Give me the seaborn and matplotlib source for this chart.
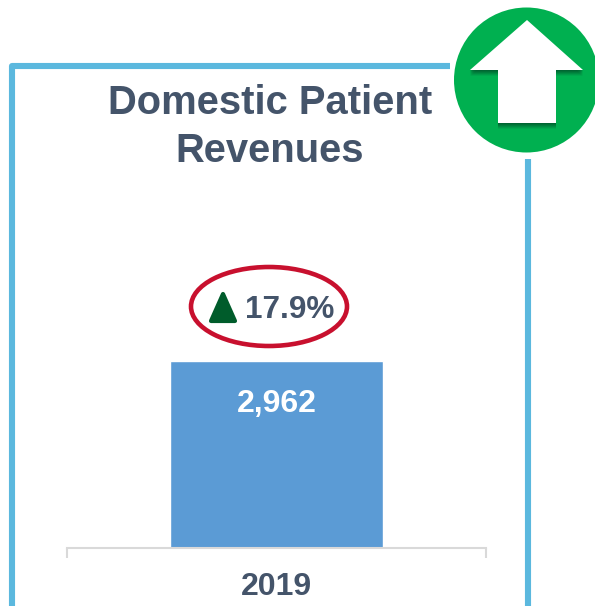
import matplotlib
matplotlib.use("Agg")
import matplotlib.pyplot as plt
import seaborn as sns
import pandas as pd
from matplotlib.patches import Ellipse, Polygon, Circle
from matplotlib.lines import Line2D

years = ["2019"]
revenues = [2962]
growth_label = "17.9%"
title_lines = ["Domestic Patient", "Revenues"]

W, H = 595, 606
sns.set_theme(style="white")
plt.rcParams['font.family'] = ['Liberation Sans', 'DejaVu Sans']
TEXT = "#44546A"
FRAME = "#5BB8DE"
GREEN = "#00B050"
BAR = "#5B9BD5"
AXIS = "#D9D9D9"

fig = plt.figure(figsize=(W / 100, H / 100), dpi=100, facecolor="white")

# pixel-space overlay for the decorations
ov = fig.add_axes([0, 0, 1, 1], zorder=0)
ov.set_xlim(0, W)
ov.set_ylim(H, 0)
ov.axis("off")

# bar chart
base_y, top_y, x0, x1 = 548, 361, 67, 486
ax = fig.add_axes([x0 / W, 1 - base_y / H, (x1 - x0) / W, (base_y - top_y) / H], zorder=2)
ax.patch.set_alpha(0)
df = pd.DataFrame({"year": years, "revenue": revenues})
sns.barplot(data=df, x="year", y="revenue", color=BAR, saturation=1, width=0.506, ax=ax)
ax.set_xlim(-0.5, 0.5)
ax.set_ylim(0, max(revenues))
ax.set_xlabel("")
ax.set_ylabel("")
ax.set_yticks([])
sns.despine(ax=ax, left=True, top=True, right=True)
ax.spines["bottom"].set_color(AXIS)
ax.spines["bottom"].set_linewidth(1.5)
ax.set_xticks([-0.5, 0.5], minor=True)
ax.tick_params(axis="x", which="minor", length=7.5, width=1.5, color=AXIS, bottom=True)
ax.tick_params(axis="x", which="major", length=0, pad=17.5, labelsize=23, labelcolor=TEXT)
for lab in ax.get_xticklabels():
    lab.set_fontweight("bold")
for i, v in enumerate(revenues):
    ax.annotate(f"{v:,}", (i, v), xytext=(0, -43), textcoords="offset pixels",
                ha="center", va="center", color="white", fontsize=23, fontweight="bold")

# frame
ov.add_line(Line2D((12, 12, 450), (H + 5, 66, 66), color=FRAME, lw=4.4,
                   solid_capstyle="butt", solid_joinstyle="round"))
ov.add_line(Line2D((528, 528), (159, H + 5), color=FRAME, lw=4.4, solid_capstyle="butt"))

# title
for txt, y in zip(title_lines, (103, 151)):
    ov.text(270, y, txt, ha="center", va="center", color=TEXT, fontsize=28.8, fontweight="bold")

# green badge
ov.add_patch(Circle((526.5, 80), 72.5, fc=GREEN, ec="none"))
arrow = [(527, 20), (583, 70), (556, 70), (556, 123), (498, 123), (498, 70), (470, 70)]
for off, a in [(6, .10), (5, .14), (4, .18), (3, .22), (2, .28), (1, .32)]:
    ov.add_patch(Polygon([(x, y + off) for x, y in arrow], fc="#00502A", ec="none", alpha=a))
ov.add_patch(Polygon(arrow, fc="white", ec="none"))

# growth callout
ov.add_patch(Ellipse((269, 306.5), 156, 79, fc="none", ec="#C8102E", lw=3.3))
ov.add_patch(Polygon([(223, 294), (235, 321), (211, 321)], fc="#005C2B", ec="#005C2B", lw=3, joinstyle="round"))
ov.text(289.5, 310, growth_label, ha="center", va="center", color=TEXT, fontsize=22.7, fontweight="bold")

fig.savefig("out.png", dpi=100, facecolor="white")
